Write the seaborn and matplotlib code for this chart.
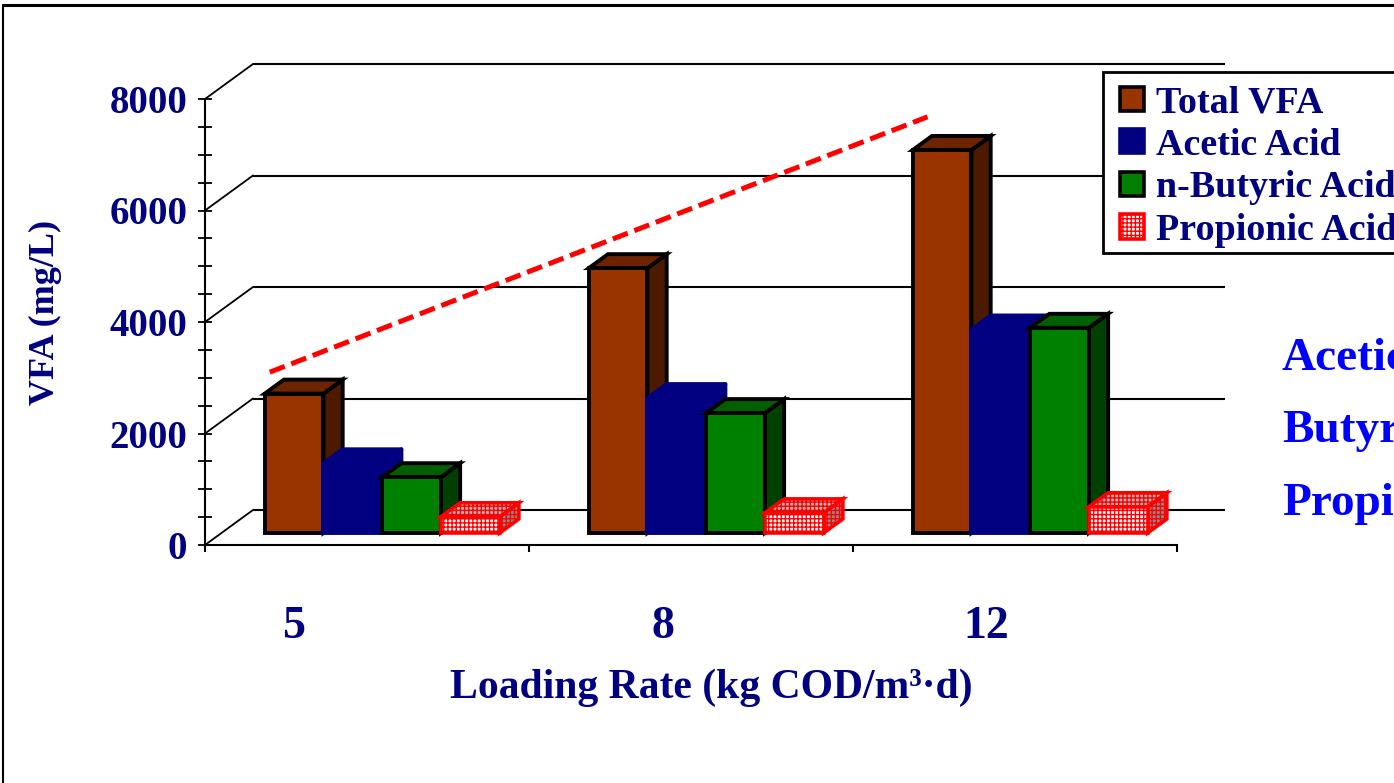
import numpy as np
import pandas as pd
import matplotlib
matplotlib.use("Agg")
import matplotlib.pyplot as plt
import seaborn as sns
from matplotlib.patches import Polygon, Patch, Rectangle
from matplotlib.lines import Line2D
from matplotlib.legend_handler import HandlerPatch

# ---- data -------------------------------------------------------------
loading_rates = ["5", "8", "12"]
acids = ["Total VFA", "Acetic Acid", "n-Butyric Acid", "Propionic Acid"]
total_vfa = [2500, 4750, 6870]
acetic_acid = [1250, 2420, 3650]
butyric_acid = [1000, 2150, 3680]
propionic_acid = [290, 360, 470]
y_ticks = [0, 2000, 4000, 6000, 8000]
trend_x = [-0.30, 1.73]
trend_y = [3100, 7680]
side_notes = ["Acetic", "Butyric", "Propionic"]

series = dict(zip(acids, [total_vfa, acetic_acid, butyric_acid, propionic_acid]))
df = pd.DataFrame(
    [(lr, a, series[a][i]) for a in acids for i, lr in enumerate(loading_rates)],
    columns=["loading", "acid", "vfa"],
)

# ---- styling ----------------------------------------------------------
W, H, DPI = 1394, 783, 100
NAVY = "#000080"
front_col = {"Total VFA": "#993300", "Acetic Acid": "#000080",
             "n-Butyric Acid": "#008000", "Propionic Acid": "#FFFFFF"}
top_col = {"Total VFA": "#6e2400", "Acetic Acid": "#000080",
           "n-Butyric Acid": "#006000", "Propionic Acid": "#b8b8b8"}
side_col = {"Total VFA": "#4d1a00", "Acetic Acid": "#000080",
            "n-Butyric Acid": "#004000", "Propionic Acid": "#8a8a8a"}
edge_col = {"Total VFA": "black", "Acetic Acid": "#000080",
            "n-Butyric Acid": "black", "Propionic Acid": "#FF0000"}

sns.set_style("white")
plt.rcParams["font.family"] = ["Liberation Serif", "DejaVu Serif"]
plt.rcParams["font.weight"] = "bold"
plt.rcParams["hatch.linewidth"] = 1.0

fig = plt.figure(figsize=(W / DPI, H / DPI), dpi=DPI)
fig.patch.set_facecolor("white")
ax = fig.add_axes([205 / W, 1 - 545 / H, 972 / W, 446 / H])
ax.patch.set_alpha(0)

XMIN, XMAX, YMIN, YMAX = -0.5, 2.5, 0, 8000
# oblique projection of the depth axis, in data units
DX = 48 / (972 / 3)
DY = 35 * YMAX / 446
FRONT, DEPTH = 0.344, 0.40

sns.barplot(data=df, x="loading", y="vfa", hue="acid", order=loading_rates,
            hue_order=acids, palette=front_col, saturation=1, width=0.725,
            errorbar=None, legend=False, edgecolor="black", linewidth=2.8, ax=ax)
ax.set_xlim(XMIN, XMAX)
ax.set_ylim(YMIN, YMAX)

# ---- back wall with gridlines and floor diagonals -----------------------
for v in y_ticks:
    ax.plot([XMIN + DX, XMAX + DX], [v + DY, v + DY], color="black", lw=1.5,
            clip_on=False, zorder=1, solid_capstyle="butt")
    ax.plot([XMIN, XMIN + DX], [v, v + DY], color="black", lw=1.3,
            clip_on=False, zorder=1)

# ---- turn flat bars into boxes ------------------------------------------
fx, fy = FRONT * DX, FRONT * DY
bx, by = DEPTH * DX, DEPTH * DY
for k, (acid, cont) in enumerate(zip(acids, ax.containers)):
    hatch = "++++" if acid == "Propionic Acid" else None
    lw = 2.6 if acid == "Propionic Acid" else 2.8
    join = "round" if acid == "Acetic Acid" else "miter"
    for i, bar in enumerate(cont.patches):
        x0 = bar.get_x() + fx - 0.004
        w = bar.get_width()
        h = bar.get_height()
        y0 = fy
        bar.set_x(x0)
        bar.set_y(y0)
        z = 3 + i + 0.1 * k
        bar.set_edgecolor(edge_col[acid])
        bar.set_linewidth(lw)
        bar.set_joinstyle(join)
        bar.set_hatch(hatch)
        bar.set_zorder(z + 0.02)
        bar.set_clip_on(False)
        top = Polygon([(x0, y0 + h), (x0 + w, y0 + h), (x0 + w + bx, y0 + h + by),
                       (x0 + bx, y0 + h + by)], closed=True,
                      facecolor=top_col[acid], edgecolor=edge_col[acid], lw=lw,
                      joinstyle=join, hatch=hatch, zorder=z, clip_on=False)
        side = Polygon([(x0 + w, y0), (x0 + w + bx, y0 + by),
                        (x0 + w + bx, y0 + h + by), (x0 + w, y0 + h)], closed=True,
                       facecolor=side_col[acid], edgecolor=edge_col[acid], lw=lw,
                       joinstyle=join, hatch=hatch, zorder=z, clip_on=False)
        ax.add_patch(side)
        ax.add_patch(top)

# ---- dashed trend line ----------------------------------------------------
ax.plot(trend_x, trend_y, color="#FF0000", lw=3.6, dashes=(3.2, 1.4),
        zorder=30, clip_on=False, dash_capstyle="butt")

# ---- axes ---------------------------------------------------------------
sns.despine(ax=ax)
for s in ("left", "bottom"):
    ax.spines[s].set_color("black")
    ax.spines[s].set_linewidth(1.5)
ax.set_yticks(y_ticks)
ax.set_yticks(np.arange(YMIN, YMAX + 1, 500), minor=True)
ax.tick_params(axis="y", which="both", left=True, direction="inout", length=9.5,
               width=1.3, color="black", labelcolor=NAVY, labelsize=28, pad=8)
ax.set_xticks([XMIN + j for j in range(len(loading_rates) + 1)])
ax.set_xticklabels([])
ax.tick_params(axis="x", which="both", bottom=True, direction="out", length=5,
               width=1.5, color="black")
for t in ax.get_yticklabels():
    t.set_fontweight("bold")
ax.set_xlabel("")
ax.set_ylabel("")

label_shift = [-0.225, -0.086, -0.090]
for i, (lab, s) in enumerate(zip(loading_rates, label_shift)):
    ax.text(i + s, -82 / 446, lab, transform=ax.get_xaxis_transform(),
            ha="center", va="center", color=NAVY, fontsize=33, fontweight="bold")

fig.text(45 / W, 1 - 312 / H, "VFA (mg/L)", rotation=90, ha="center",
         va="center", color=NAVY, fontsize=26, fontweight="bold")
fig.text(711 / W, 1 - 688 / H, "Loading Rate (kg COD/m³·d)", ha="center",
         va="center", color=NAVY, fontsize=30, fontweight="bold")

for j, note in enumerate(side_notes):
    fig.text(1282 / W, 1 - (370 + 72.5 * j) / H, note, ha="left", va="baseline",
             color="#0000FF", fontsize=34, fontweight="bold")


# ---- legend -------------------------------------------------------------
def square_key(legend, orig_handle, xdescent, ydescent, width, height, fontsize):
    side = height
    return Rectangle((-xdescent + width - side, -ydescent), side, side)


# legend box (white, so it hides the gridlines behind it)
fig.add_artist(Rectangle((1103 / W, 1 - 253 / H), 400 / W, 181 / H,
                         transform=fig.transFigure, facecolor="white",
                         edgecolor="black", lw=2.0, zorder=39))

handles = [
    Patch(facecolor=front_col[a], edgecolor=edge_col[a],
          linewidth=2.6, hatch="++++" if a == "Propionic Acid" else None,
          joinstyle="round" if a == "Acetic Acid" else "miter")
    for a in acids
]
leg = fig.legend(handles, acids, loc="upper left",
                 bbox_to_anchor=(1103 / W, 1 - 76 / H), frameon=False,
                 prop={"size": 27.4, "weight": "bold"}, handlelength=0.84,
                 handleheight=0.60, handletextpad=0.32, labelspacing=0.20,
                 borderpad=0.24, borderaxespad=0,
                 handler_map={Patch: HandlerPatch(patch_func=square_key)})
for t in leg.get_texts():
    t.set_color(NAVY)
leg.set_zorder(40)

# ---- outer frame ----------------------------------------------------------
fig.add_artist(Line2D([3 / W, 1], [1 - 5 / H, 1 - 5 / H], transform=fig.transFigure,
                      color="black", lw=2.2))
fig.add_artist(Line2D([3 / W, 3 / W], [0, 1 - 5 / H], transform=fig.transFigure,
                      color="black", lw=1.5))

fig.savefig("out.png", dpi=DPI)
